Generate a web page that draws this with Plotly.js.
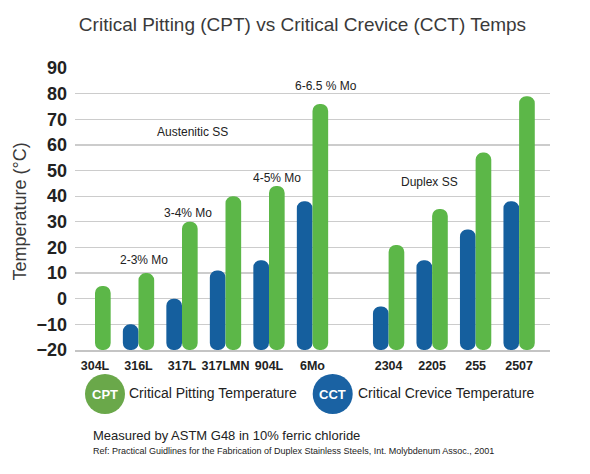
<!DOCTYPE html>
<html>
<head>
<meta charset="utf-8">
<script src="https://cdn.plot.ly/plotly-3.0.1.min.js"></script>
<style>
  html, body { margin: 0; padding: 0; background: #ffffff; }
  #plot { width: 590px; height: 474px; }
</style>
</head>
<body>
<div id="plot"></div>
<script>
// stainless grades, austenitic first then duplex
const grades = ['304L', '316L', '317L', '317LMN', '904L', '6Mo', '2304', '2205', '255', '2507'];
// critical pitting temperature (°C)
const cpt = [5, 10, 30, 40, 44, 76, 21, 35, 57, 79];
// critical crevice temperature (°C), none shown for 304L
const cct = [null, -10, 0, 11, 15, 38, -3, 15, 27, 38];

const yMin = -20;
const duplexStart = 6;   // index of first duplex grade
const groupGap = 0.75;   // extra space between the two families

const FONT = 'Liberation Sans, Arial, Helvetica, sans-serif';
const GREEN = '#5cb748';
const BLUE = '#155f9e';

// slot for each grade on the x axis
const xPos = grades.map((g, i) => i + (i >= duplexStart ? groupGap : 0));

// bars all grow up from the bottom of the axis
const cctTrace = {
    type: 'bar',
    name: 'CCT',
    x: xPos,
    y: cct.map(v => v === null ? null : v - yMin),
    base: yMin,
    marker: { color: BLUE, cornerradius: '50%' },
    hoverinfo: 'skip'
};

const cptTrace = {
    type: 'bar',
    name: 'CPT',
    x: xPos,
    y: cpt.map(v => v - yMin),
    base: yMin,
    marker: { color: GREEN, cornerradius: '50%' },
    hoverinfo: 'skip'
};

// paper coords helpers (plot area is 75..550 x 68..350 px)
const px = x => (x - 75) / 475;
const py = y => (350 - y) / 282;

const note = (text, x, y, size) => ({
    text: text, x: x, y: y, xref: 'x', yref: 'y',
    showarrow: false, xanchor: 'center', yanchor: 'middle',
    font: { family: FONT, size: size || 12, color: '#222222' }
});

const paperText = (text, x, y, size, extra) => Object.assign({
    text: text, x: x, y: y, xref: 'paper', yref: 'paper',
    showarrow: false, xanchor: 'left', yanchor: 'middle',
    font: { family: FONT, size: size, color: '#222222' }
}, extra || {});

const annotations = [
    note('Austenitic SS', 2.25, 65),
    note('2-3% Mo', 1.13, 15),
    note('3-4% Mo', 2.13, 33.5),
    note('4-5% Mo', 4.18, 47),
    note('6-6.5 % Mo', 5.3, 83),
    note('Duplex SS', 7.68, 45.5),

    // y axis title
    paperText('Temperature (°C)', px(19.5), py(212), 18,
        { xanchor: 'center', textangle: -90, font: { family: FONT, size: 18, color: '#3a3a3a' } }),

    // legend
    paperText('<b>CPT</b>', px(105), py(394), 13,
        { xanchor: 'center', font: { family: FONT, size: 13, color: '#ffffff' } }),
    paperText('Critical Pitting Temperature', px(127), py(393), 14),
    paperText('<b>CCT</b>', px(332.7), py(394), 13,
        { xanchor: 'center', font: { family: FONT, size: 13, color: '#ffffff' } }),
    paperText('Critical Crevice Temperature', px(356), py(393), 14),

    // footnotes
    paperText('Measured by ASTM G48 in 10% ferric chloride', px(90.5), py(435), 13),
    paperText('Ref: Practical Guidlines for the Fabrication of Duplex Stainless Steels, Int. Molybdenum Assoc., 2001',
        px(90.5), py(451), 9)
];

const legendDot = (cx, color) => ({
    type: 'circle',
    xref: 'paper', yref: 'paper',
    xsizemode: 'pixel', ysizemode: 'pixel',
    xanchor: px(cx), yanchor: py(394),
    x0: -20, x1: 20, y0: -20, y1: 20,
    fillcolor: color,
    line: { width: 0 },
    layer: 'above'
});

const layout = {
    width: 590,
    height: 474,
    margin: { l: 75, r: 40, t: 68, b: 124, pad: 0 },
    paper_bgcolor: '#ffffff',
    plot_bgcolor: '#ffffff',
    showlegend: false,
    barmode: 'group',
    bargap: 0.28,
    bargroupgap: 0,
    title: {
        text: 'Critical Pitting (CPT) vs Critical Crevice (CCT) Temps',
        x: 302.5 / 590,
        xanchor: 'center',
        y: 1 - 24 / 474,
        yanchor: 'middle',
        font: { family: FONT, size: 19, color: '#3a3a3a' }
    },
    xaxis: {
        range: [-0.46, 10.46],
        tickvals: xPos,
        ticktext: grades,
        ticks: '',
        ticklabelstandoff: 3,
        showgrid: false,
        zeroline: false,
        showline: true,
        linecolor: '#c4c4c4',
        linewidth: 2,
        tickfont: { family: FONT, size: 12.5, color: '#222222', weight: 700 },
        fixedrange: true
    },
    yaxis: {
        range: [yMin, 90],
        dtick: 10,
        tick0: 0,
        ticks: '',
        ticklabelstandoff: 7,
        showgrid: true,
        gridcolor: '#cccccc',
        gridwidth: 1.2,
        zeroline: false,
        showline: false,
        tickfont: { family: FONT, size: 18, color: '#222222', weight: 700 },
        fixedrange: true
    },
    annotations: annotations,
    shapes: [legendDot(105, '#6aa84a'), legendDot(332.7, '#1a62a3')]
};

const config = { displayModeBar: false, staticPlot: true };

Plotly.newPlot('plot', [cctTrace, cptTrace], layout, config);
</script>
</body>
</html>
